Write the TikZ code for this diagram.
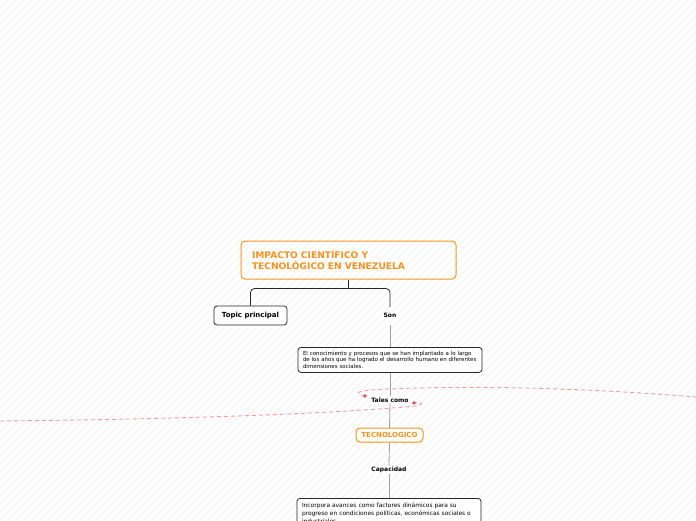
\documentclass[tikz,border=0pt]{standalone}
\usepackage{fontspec}
\setmainfont{DejaVu Sans}
\usetikzlibrary{positioning, calc}
\definecolor{naranja}{HTML}{F5921E}
\definecolor{rayado}{HTML}{F4F4F4}
\definecolor{enlace}{HTML}{F29C9C}
\definecolor{punto}{HTML}{E84B4B}

\begin{document}
\begin{tikzpicture}[x=1pt, y=-1pt,
    tema/.style={draw=naranja, line width=1pt, rounded corners=4pt, text=naranja,
      font=\bfseries\fontsize{9.1}{11}\selectfont, align=left},
    caja/.style={draw=black!85, line width=0.8pt, rounded corners=3pt, fill=white},
    etiqueta/.style={font=\bfseries\fontsize{6}{7}\selectfont, fill=white, inner sep=1pt},
    texto/.style={caja, align=left, inner xsep=5pt, text width=174pt},
    rama/.style={draw=gray!75, line width=0.8pt}]
  \useasboundingbox (0,0) rectangle (696,520);
  % fondo rayado
  \begin{scope}
    \clip (0,0) rectangle (696,520);
    \foreach \i in {-520,-512,...,696}
      \draw[rayado, line width=0.8pt] (\i,520) -- ++(520,-520);
  \end{scope}
  % relaciones
  \coordinate (p1) at (414,403);
  \coordinate (p2) at (365,396);
  \draw[enlace, line width=0.9pt, dash pattern=on 4pt off 3pt]
    (0,421) .. controls (200,419) and (340,413) .. (416,406)
    .. controls (424,405) and (423,402) .. (p1);
  \draw[enlace, line width=0.9pt, dash pattern=on 4pt off 3pt]
    (p2) .. controls (355,394) and (356,391) .. (370,390)
    .. controls (470,384) and (600,389) .. (696,397);
  \fill[punto] (p1) circle (1.8);
  \fill[punto] (p2) circle (1.8);
  % nodos
  \node[tema, minimum height=38pt, text width=193pt, inner xsep=11pt] (titulo) at (348.5,260)
    {IMPACTO CIENTÍFICO Y\\TECNOLÓGICO EN VENEZUELA};
  \node[caja, etiqueta, font=\bfseries\fontsize{7}{8}\selectfont, inner sep=0pt, minimum width=73pt, minimum height=19pt] (topic) at (250.5,315.5) {Topic principal};
  \node[etiqueta, minimum height=19pt, fill=none] (son) at (390,315.5) {Son};
  \node[texto, font=\fontsize{5.5}{6.3}\selectfont, minimum height=25pt, anchor=north] (desc1) at (390,347)
    {\mbox{El conocimiento y procesos que se han implantado a lo largo}\\
     \mbox{de los años que ha logrado el desarrollo humano en diferentes}\\
     \mbox{dimensiones sociales.}};
  \node[etiqueta] (tales) at (390,400) {Tales como};
  \node[tema, font=\bfseries\fontsize{7}{8}\selectfont, minimum width=67pt, minimum height=14pt, inner sep=0pt, fill=white] (tecno) at (389.5,435) {TECNOLOGICO};
  \node[etiqueta] (capacidad) at (389,470) {Capacidad};
  \node[texto, font=\fontsize{5.9}{8}\selectfont, anchor=north, inner ysep=4.5pt] (desc2) at (389,498)
    {\mbox{Incorpora avances como factores dinámicos para su}\\
     \mbox{progreso en condiciones políticas, económicas sociales o}\\
     \mbox{industriales.}};
  % conectores
  \coordinate (rama0) at ($(titulo.south)+(0,9)$);
  \draw[black!85, line width=0.8pt] (titulo.south) -- (rama0);
  \draw[black!85, line width=0.8pt, rounded corners=4pt]
    (topic.north) |- (rama0) -| ([yshift=-1pt]son.north);
  \draw[rama] (son.south) -- (desc1.north);
  \draw[rama] (desc1.south) -- (tales.north);
  \draw[rama] (tales.south) -- (tecno.north);
  \draw[rama] (tecno.south) -- (capacidad.north);
  \draw[rama] (capacidad.south) -- (desc2.north);
\end{tikzpicture}
\end{document}
